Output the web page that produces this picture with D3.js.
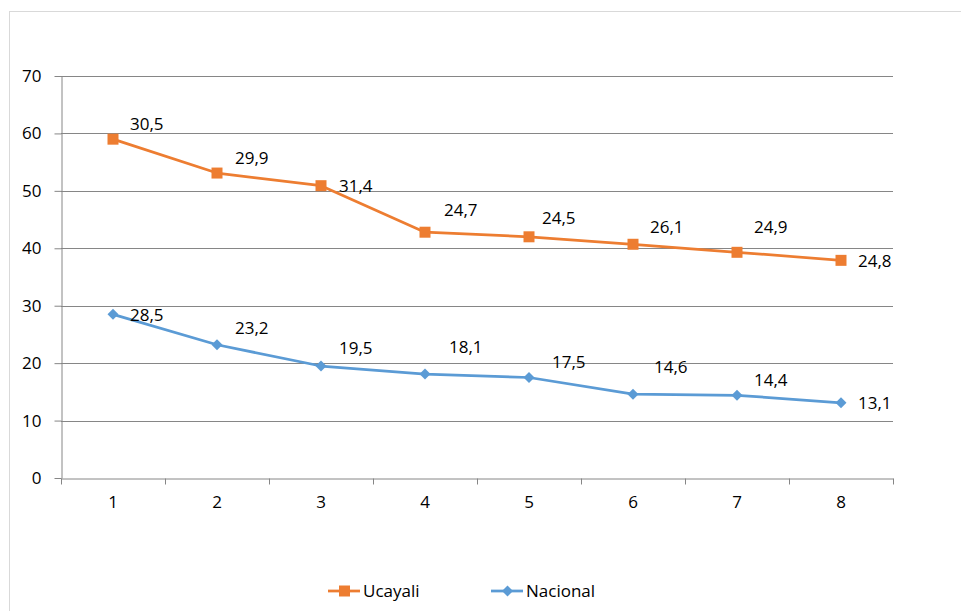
<!DOCTYPE html>
<html>
<head>
<meta charset="utf-8">
<script src="https://cdn.jsdelivr.net/npm/d3@7"></script>
<style>
  body { margin: 0; background: #fff; }
  text { font-family: "Open Sans", sans-serif; font-size: 17px; fill: #000; }
</style>
</head>
<body>
<svg width="961" height="611"></svg>
<script>
// data
const categories = ["1", "2", "3", "4", "5", "6", "7", "8"];
const ucayali = [30.5, 29.9, 31.4, 24.7, 24.5, 26.1, 24.9, 24.8];
const nacional = [28.5, 23.2, 19.5, 18.1, 17.5, 14.6, 14.4, 13.1];
const yTicks = [0, 10, 20, 30, 40, 50, 60, 70];

// label nudges (px, relative to the point) as placed in the original
const nudgeUcayali = [[17, -9], [18, -9], [18, 6], [19, -16], [13, -13], [17, -11], [17, -19], [17, 7]];
const nudgeNacional = [[17, 7], [18, -11], [18, -12], [24, -21], [23, -10], [21, -21], [17, -9], [17, 6]];

const orange = "#ed7d31", blue = "#5b9bd5", gray = "#868686";

const rows = categories.map((c, i) => ({cat: c, Nacional: nacional[i], Ucayali: ucayali[i]}));
const stacked = d3.stack().keys(["Nacional", "Ucayali"])(rows);

const svg = d3.select("svg");

// outer frame
svg.append("rect")
  .attr("x", 9.5).attr("y", 11.5)
  .attr("width", 1000).attr("height", 700)
  .attr("fill", "none").attr("stroke", "#d9d9d9");

const xScale = d3.scaleBand().domain(categories).range([61, 893]);
const yScale = d3.scaleLinear().domain([0, 70]).range([478, 76]);
const cx = c => xScale(c) + xScale.bandwidth() / 2;

// gridlines
svg.append("g").selectAll("line")
  .data(yTicks.slice(1))
  .join("line")
  .attr("x1", 61).attr("x2", 893)
  .attr("y1", d => Math.round(yScale(d)) + 0.5)
  .attr("y2", d => Math.round(yScale(d)) + 0.5)
  .attr("stroke", gray);

// y axis
let yAxis = d3.axisLeft(yScale).tickValues(yTicks).tickSizeOuter(0).tickSizeInner(7).tickPadding(13);
svg.append("g").attr("id", "yAxisG")
  .attr("transform", "translate(61.5, 0)")
  .call(yAxis);

// x axis with ticks on band edges
let xAxis = d3.axisBottom(xScale).tickSize(0).tickPadding(17);
svg.append("g").attr("id", "xAxisG")
  .attr("transform", "translate(0, 478.5)")
  .call(xAxis);
d3.select("#xAxisG").selectAll("line.edge")
  .data(categories.concat(["end"]))
  .join("line")
  .attr("class", "edge")
  .attr("x1", (d, i) => Math.round(61 + i * xScale.bandwidth()) + 0.5)
  .attr("x2", (d, i) => Math.round(61 + i * xScale.bandwidth()) + 0.5)
  .attr("y1", 0).attr("y2", 6)
  .attr("stroke", gray);

d3.selectAll("#yAxisG path, #yAxisG line, #xAxisG path").attr("stroke", gray);
d3.selectAll("#yAxisG text, #xAxisG text")
  .style("font-family", "'Open Sans', sans-serif").style("font-size", "17px").attr("fill", "#000");

// series
const series = [
  {name: "Ucayali", layer: stacked[1], raw: ucayali, color: orange, size: 121, rot: 0, nudge: nudgeUcayali},
  {name: "Nacional", layer: stacked[0], raw: nacional, color: blue, size: 60, rot: 45, nudge: nudgeNacional}
];

const line = d3.line()
  .x(d => cx(d.data.cat))
  .y(d => yScale(d[1]));

series.slice().reverse().forEach(s => {
  svg.append("path")
    .attr("d", line(s.layer))
    .attr("fill", "none")
    .attr("stroke", s.color)
    .attr("stroke-width", 2.75)
    .attr("stroke-linejoin", "round");

  svg.append("g").selectAll("path")
    .data(s.layer)
    .join("path")
    .attr("d", d3.symbol().type(d3.symbolSquare).size(s.size))
    .attr("transform", d => `translate(${cx(d.data.cat)},${yScale(d[1])}) rotate(${s.rot})`)
    .attr("fill", s.color);

  svg.append("g").selectAll("text")
    .data(s.layer)
    .join("text")
    .attr("x", (d, i) => cx(d.data.cat) + s.nudge[i][0])
    .attr("y", (d, i) => yScale(d[1]) + s.nudge[i][1])
    .text((d, i) => String(s.raw[i]).replace(".", ","));
});

// legend
const legend = svg.append("g").attr("transform", "translate(0, 591)");
const legendX = [328, 491];
series.forEach((s, i) => {
  const g = legend.append("g").attr("transform", `translate(${legendX[i]}, 0)`);
  g.append("line").attr("x1", 0).attr("x2", 32).attr("y1", 0).attr("y2", 0)
    .attr("stroke", s.color).attr("stroke-width", 2.75);
  g.append("path")
    .attr("d", d3.symbol().type(d3.symbolSquare).size(s.size))
    .attr("transform", `translate(16.5,0) rotate(${s.rot})`)
    .attr("fill", s.color);
  g.append("text").attr("x", 35).attr("y", 0).attr("dy", "0.35em").text(s.name);
});
</script>
</body>
</html>
